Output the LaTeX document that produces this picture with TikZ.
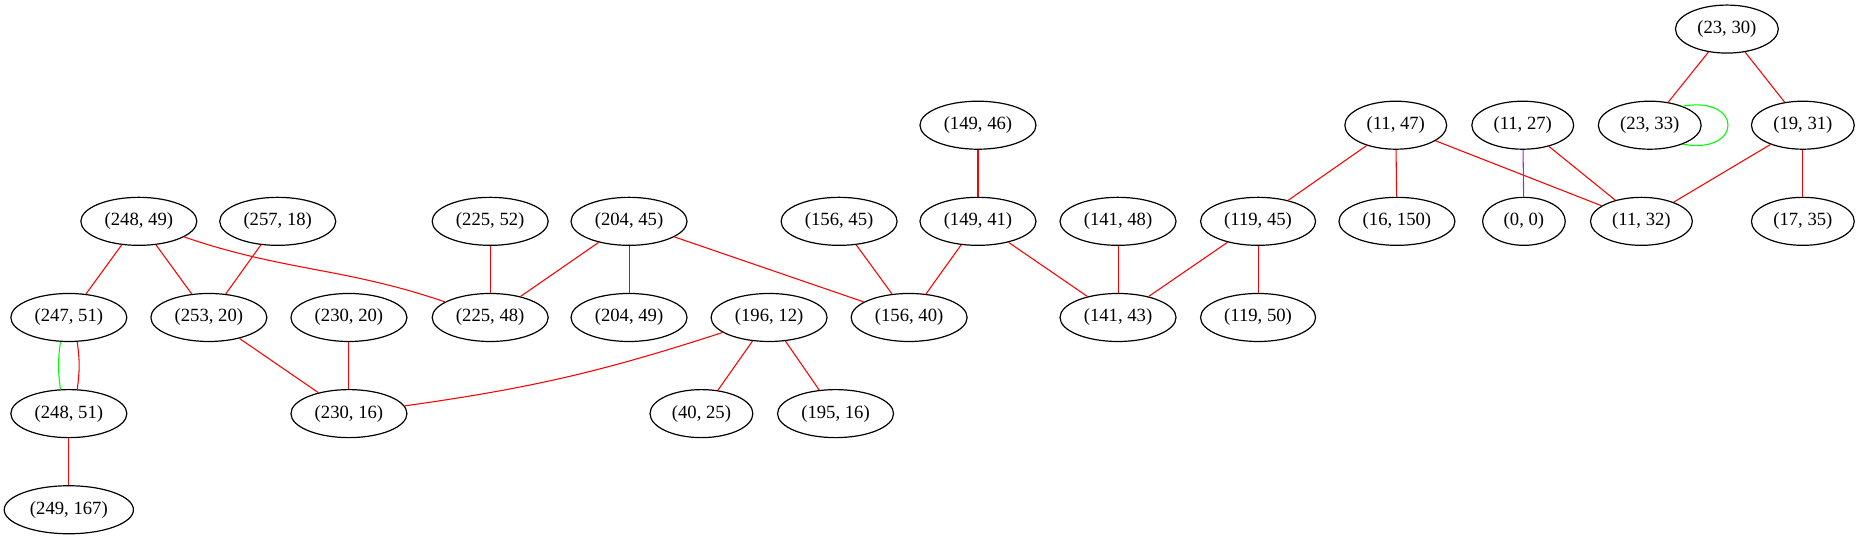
\documentclass[tikz,border=0pt]{standalone}
\usepackage{fontspec}
\setmainfont{Liberation Serif}
\usepackage{tikz}
\usetikzlibrary{shapes}
\usepackage{xcolor}
\definecolor{linkpurple}{HTML}{A020F0}

\tikzset{
	pair/.style={draw, ellipse, line width=0.9pt, minimum height=36pt, minimum width=62pt, inner xsep=5.1pt, inner ysep=2pt, font=\fontsize{14pt}{16pt}\selectfont},
	link/.style={red, line width=0.8pt}
}

\begin{document}
\begin{tikzpicture}[x=0.89pt,y=0.89pt]
\useasboundingbox (0,0) rectangle (1568,454);
\node[pair] (v23-30) at (1455,429.5) {(23, 30)};
\foreach \x/\a/\b in {824/149/46,1176/11/47,1283/11/27,1390/23/33,1519/19/31}
	\node[pair] (v\a-\b) at (\x,348.5) {(\a, \b)};
\foreach \x/\a/\b in {117/248/49,234/257/18,413/225/52,530/204/45,707/156/45,824/149/41,942/141/48,1060/119/45,1177/16/150,1284/0/0,1383/11/32,1519/17/35}
	\node[pair] (v\a-\b) at (\x,267.5) {(\a, \b)};
\foreach \x/\a/\b in {58/247/51,176/253/20,294/230/20,413/225/48,530/204/49,648/196/12,766/156/40,942/141/43,1060/119/50}
	\node[pair] (v\a-\b) at (\x,186.5) {(\a, \b)};
\foreach \x/\a/\b in {58/248/51,294/230/16,591/40/25,704/195/16}
	\node[pair] (v\a-\b) at (\x,105.5) {(\a, \b)};
\node[pair] (v249-167) at (58,24.5) {(249, 167)};
\foreach \s/\t in {248-49/247-51,248-49/253-20,257-18/253-20,225-52/225-48,204-45/225-48,204-45/204-49,204-45/156-40,156-45/156-40,149-46/149-41,149-41/156-40,149-41/141-43,141-48/141-43,119-45/141-43,119-45/119-50,11-47/119-45,11-47/16-150,11-47/11-32,11-27/11-32,19-31/11-32,19-31/17-35,23-30/23-33,23-30/19-31,248-51/249-167,253-20/230-16,230-20/230-16,196-12/40-25,196-12/195-16}
	\draw[link] (v\s) -- (v\t);
\draw[link] (v248-49) to[out=-19,in=161] (v225-48);
\draw[link] (v196-12) to[bend left=5] (v230-16);
\draw[link,linkpurple] (v11-27) -- (v0-0);
\draw[link,green] (v247-51.251) to[bend right=8] (v248-51.109);
\draw[link] (v247-51.289) to[bend left=8] (v248-51.71);
\draw[link,green] (v23-33.30) to[out=10,in=-10,distance=46pt] (v23-33.330);
\end{tikzpicture}
\end{document}
